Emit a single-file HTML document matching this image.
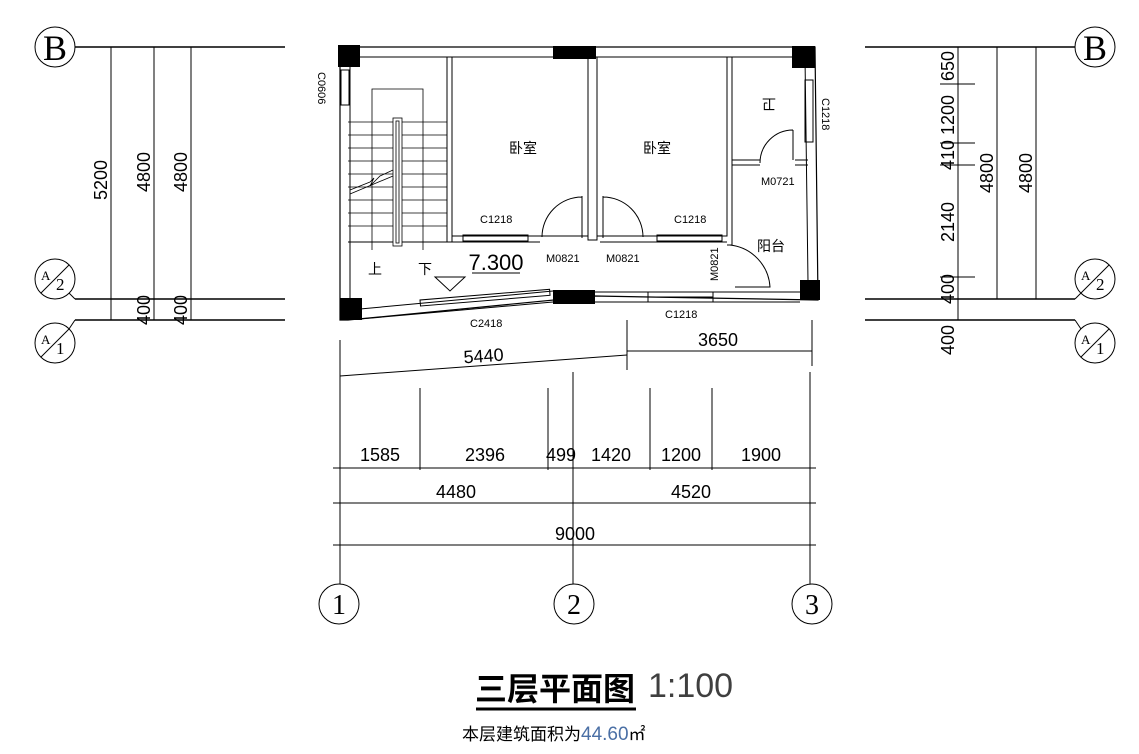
<!DOCTYPE html>
<html><head><meta charset="utf-8"><style>
html,body{margin:0;padding:0;background:#fff;}
svg{display:block}
text{font-family:"Liberation Sans","Noto Sans CJK SC",sans-serif;fill:#000}
</style></head><body>
<svg width="1139" height="754" viewBox="0 0 1139 754" xmlns="http://www.w3.org/2000/svg">
<g stroke="#000" fill="none" stroke-width="1">
<!-- LEFT AXIS -->
<circle cx="55" cy="47" r="20"/>
<line x1="75" y1="47" x2="285" y2="47" stroke-width="1.5"/>
<line x1="75" y1="299" x2="285" y2="299" stroke-width="1.5"/>
<line x1="75" y1="320" x2="285" y2="320" stroke-width="1.5"/>
<circle cx="55" cy="279" r="20"/><line x1="41" y1="293" x2="69" y2="265"/>
<polyline points="69,293 75,299"/>
<circle cx="55" cy="343" r="20"/><line x1="41" y1="357" x2="69" y2="329"/>
<polyline points="69,329 75,320"/>
<line x1="111" y1="47" x2="111" y2="320"/>
<line x1="154" y1="47" x2="154" y2="320"/>
<line x1="191" y1="47" x2="191" y2="320"/>
<!-- RIGHT AXIS -->
<circle cx="1095" cy="47" r="20"/>
<line x1="865" y1="47" x2="1075" y2="47" stroke-width="1.5"/>
<line x1="865" y1="299" x2="1075" y2="299" stroke-width="1.5"/>
<line x1="865" y1="320" x2="1075" y2="320" stroke-width="1.5"/>
<circle cx="1095" cy="279" r="20"/><line x1="1081" y1="293" x2="1109" y2="265"/>
<polyline points="1081,293 1075,299"/>
<circle cx="1095" cy="343" r="20"/><line x1="1081" y1="357" x2="1109" y2="329"/>
<polyline points="1081,329 1075,320"/>
<line x1="958" y1="47" x2="958" y2="320"/>
<line x1="997" y1="47" x2="997" y2="299"/>
<line x1="1036" y1="47" x2="1036" y2="299"/>
<g stroke-width="1">
<line x1="940" y1="84" x2="975" y2="84"/><line x1="940" y1="143" x2="975" y2="143"/>
<line x1="940" y1="165" x2="975" y2="165"/><line x1="940" y1="277" x2="975" y2="277"/>
</g>
<!-- PLAN walls -->
<polygon points="340,47 815,47 818,300 595,296 348,320 340,320" stroke-width="1.2"/>
<polyline points="350,57 805,57 808,282"/>
<polyline points="350,57 350,308"/>
<line x1="360" y1="309" x2="553" y2="291"/>
<line x1="360" y1="319" x2="553" y2="302"/>
<line x1="595" y1="292" x2="800" y2="292"/>
<line x1="595" y1="302" x2="800" y2="302"/>
<!-- windows -->
<rect x="420" y="300" width="130" height="6" transform="rotate(-4.7 420 300)"/>
<rect x="648" y="292" width="65" height="10"/><line x1="648" y1="297" x2="713" y2="297"/>
<rect x="341" y="70" width="8" height="35"/>
<rect x="805" y="80" width="8" height="62"/>
<!-- partitions -->
<polyline points="447,57 447,242 452,242 452,57"/>
<polyline points="452,57 452,236 588,236"/>
<polyline points="588,57 588,240 597,240 597,57"/>
<polyline points="597,236 727,236 727,57"/>
<polyline points="732,57 732,245 727,245"/>
<line x1="732" y1="160" x2="760" y2="160"/><line x1="732" y1="165" x2="760" y2="165"/>
<line x1="795" y1="160" x2="808" y2="160"/><line x1="795" y1="165" x2="808" y2="165"/>
<line x1="348" y1="242" x2="540" y2="242"/>
<line x1="600" y1="242" x2="727" y2="242"/>
<rect x="463" y="235" width="65" height="6"/>
<rect x="657" y="235" width="65" height="6"/>
<!-- doors -->
<path d="M582,196 L582,238 M582,197 A40,40 0 0 0 542,237"/>
<path d="M603,196 L603,238 M603,197 A40,40 0 0 1 643,237"/>
<path d="M793,130 L793,160 M793,130 A33,33 0 0 0 760,163"/>
<path d="M730,245 A45,45 0 0 1 770,287 L735,287"/>
<!-- stairs -->
<g stroke-width="0.8">
<line x1="348" y1="122" x2="447" y2="122"/><line x1="348" y1="135" x2="447" y2="135"/>
<line x1="348" y1="148" x2="447" y2="148"/><line x1="348" y1="161" x2="447" y2="161"/>
<line x1="348" y1="174" x2="447" y2="174"/><line x1="348" y1="187" x2="447" y2="187"/>
<line x1="348" y1="200" x2="447" y2="200"/><line x1="348" y1="213" x2="447" y2="213"/>
<line x1="348" y1="226" x2="447" y2="226"/><line x1="348" y1="242" x2="447" y2="242"/>
<rect x="393" y="118" width="9" height="128" fill="#fff"/><rect x="396" y="121" width="3" height="122"/>
<polyline points="372,250 372,89 423,89 423,250"/>
<polyline points="350,190 370,182 374,178 370,186 380,176 393,170"/>
<polyline points="350,194 393,176"/>
</g>
<!-- level mark -->
<line x1="472" y1="273" x2="520" y2="273"/>
<polygon points="435,277 465,277 450,291"/>
</g>
<!-- columns -->
<g fill="#000">
<rect x="338" y="45" width="22" height="22"/><rect x="553" y="46" width="43" height="13"/>
<rect x="792" y="46" width="23" height="22"/><rect x="340" y="298" width="22" height="22"/>
<rect x="553" y="290" width="42" height="14"/><rect x="800" y="280" width="20" height="20"/>
</g>
<!-- bottom dims -->
<g stroke="#000" stroke-width="1">
<line x1="340" y1="376" x2="627" y2="355"/>
<line x1="627" y1="351" x2="812" y2="351"/>
<line x1="340" y1="340" x2="340" y2="584"/>
<line x1="627" y1="320" x2="627" y2="370"/>
<line x1="812" y1="320" x2="812" y2="366"/>
<line x1="573" y1="372" x2="573" y2="584"/>
<line x1="810" y1="372" x2="810" y2="584"/>
<line x1="420" y1="388" x2="420" y2="470"/>
<line x1="548" y1="388" x2="548" y2="470"/>
<line x1="650" y1="388" x2="650" y2="470"/>
<line x1="712" y1="388" x2="712" y2="470"/>
<line x1="333" y1="468" x2="816" y2="468"/>
<line x1="333" y1="503" x2="816" y2="503"/>
<line x1="333" y1="545" x2="816" y2="545"/>
<circle cx="339" cy="604" r="20" fill="none"/>
<circle cx="574" cy="604" r="20" fill="none"/>
<circle cx="812" cy="604" r="20" fill="none"/>
<line x1="476" y1="709" x2="636" y2="709" stroke-width="3"/>
</g>
<!-- texts -->
<g font-size="36" font-family="Liberation Serif,serif">
<text x="55" y="60" text-anchor="middle" style="font-family:'Liberation Serif',serif">B</text>
<text x="1095" y="60" text-anchor="middle" style="font-family:'Liberation Serif',serif">B</text>
</g>
<g font-size="13" style="font-family:'Liberation Serif',serif">
<text x="41" y="280" style="font-family:'Liberation Serif',serif">A</text><text x="56" y="290" font-size="17" style="font-family:'Liberation Serif',serif">2</text>
<text x="41" y="344" style="font-family:'Liberation Serif',serif">A</text><text x="56" y="354" font-size="17" style="font-family:'Liberation Serif',serif">1</text>
<text x="1081" y="280" style="font-family:'Liberation Serif',serif">A</text><text x="1096" y="290" font-size="17" style="font-family:'Liberation Serif',serif">2</text>
<text x="1081" y="344" style="font-family:'Liberation Serif',serif">A</text><text x="1096" y="354" font-size="17" style="font-family:'Liberation Serif',serif">1</text>
</g>
<g font-size="28" text-anchor="middle" style="font-family:'Liberation Serif',serif">
<text x="339" y="614" style="font-family:'Liberation Serif',serif">1</text>
<text x="574" y="614" style="font-family:'Liberation Serif',serif">2</text>
<text x="812" y="614" style="font-family:'Liberation Serif',serif">3</text>
</g>
<g font-size="18" text-anchor="middle">
<text transform="translate(107,180) rotate(-90)">5200</text>
<text transform="translate(150,172) rotate(-90)">4800</text>
<text transform="translate(187,172) rotate(-90)">4800</text>
<text transform="translate(150,310) rotate(-90)">400</text>
<text transform="translate(187,310) rotate(-90)">400</text>
<text transform="translate(954,66) rotate(-90)">650</text>
<text transform="translate(954,115) rotate(-90)">1200</text>
<text transform="translate(954,155) rotate(-90)">410</text>
<text transform="translate(954,222) rotate(-90)">2140</text>
<text transform="translate(954,289) rotate(-90)">400</text>
<text transform="translate(954,340) rotate(-90)">400</text>
<text transform="translate(993,173) rotate(-90)">4800</text>
<text transform="translate(1032,173) rotate(-90)">4800</text>
<text x="484" y="362" transform="rotate(-4 484 362)">5440</text>
<text x="718" y="346">3650</text>
<text x="380" y="461">1585</text>
<text x="485" y="461">2396</text>
<text x="561" y="461">499</text>
<text x="611" y="461">1420</text>
<text x="681" y="461">1200</text>
<text x="761" y="461">1900</text>
<text x="456" y="498">4480</text>
<text x="691" y="498">4520</text>
<text x="575" y="540">9000</text>
<text x="496" y="270" font-size="22">7.300</text>
</g>
<g font-size="11">
<text x="480" y="223">C1218</text>
<text x="674" y="223">C1218</text>
<text x="546" y="262">M0821</text>
<text x="606" y="262">M0821</text>
<text x="761" y="185">M0721</text>
<text x="470" y="327">C2418</text>
<text x="665" y="318">C1218</text>
<text transform="translate(718,281) rotate(-90)">M0821</text>
<text transform="translate(318,72) rotate(90)">C0606</text>
<text transform="translate(822,98) rotate(90)">C1218</text>
</g>
<g font-size="14">
<text x="509" y="153">卧室</text>
<text x="643" y="153">卧室</text>
<text x="760" y="109" transform="rotate(180 768 104)">卫</text>
<text x="757" y="251">阳台</text>
<text x="368" y="274">上</text>
<text x="418" y="274">下</text>
</g>
<text x="475" y="700" font-size="32" font-weight="bold">三层平面图</text>
<text x="648" y="697" font-size="34" fill="#555" style="font-family:'Liberation Sans',sans-serif;font-weight:300" opacity="0.75">1:100</text>
<text x="462" y="740" font-size="17">本层建筑面积为<tspan fill="#4a6fa5" font-size="19">44.60</tspan>㎡</text>
</svg>
</body></html>
